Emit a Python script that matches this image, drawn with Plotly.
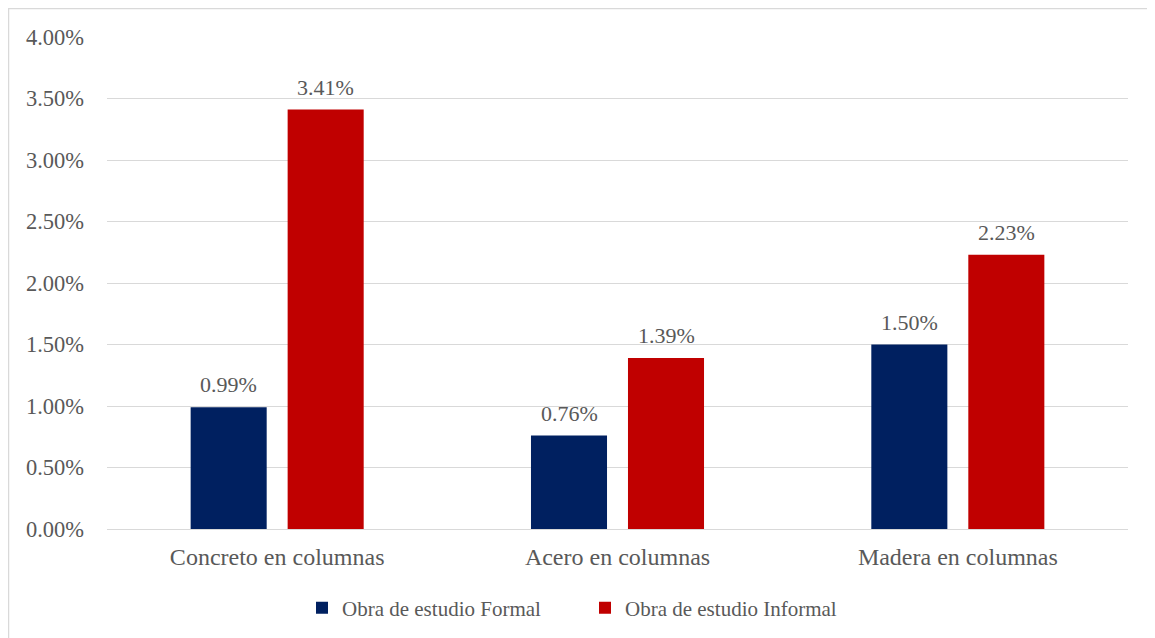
import plotly.graph_objects as go

categories = ["Concreto en columnas", "Acero en columnas", "Madera en columnas"]
formal = [0.0099, 0.0076, 0.0150]
informal = [0.0341, 0.0139, 0.0223]
series_names = ["Obra de estudio Formal", "Obra de estudio Informal"]
colors = ["#002060", "#C00000"]

FONT = "Liberation Serif, Times New Roman, serif"
GRAY = "#595959"

# plot area in page pixels (page body has an 8px margin)
PX0, PX1, PY0, PY1 = 107, 1128, 37, 529
PW, PH = PX1 - PX0, PY1 - PY0
FIG_W, FIG_H = 1147, 630

fig = go.Figure()
for name, vals, color in zip(series_names, [formal, informal], colors):
    fig.add_trace(
        go.Bar(
            x=categories,
            y=vals,
            name=name,
            marker=dict(color=color, line=dict(width=0)),
        )
    )

# data labels above the bars
for vals, shift in [(formal, -48.5), (informal, 48.5)]:
    for cat, v in zip(categories, vals):
        fig.add_annotation(
            x=cat,
            y=v,
            text=f"{v:.2%}",
            showarrow=False,
            xshift=shift,
            yshift=8,
            yanchor="bottom",
            font=dict(family=FONT, size=22, color=GRAY),
        )

fig.update_layout(
    width=FIG_W,
    height=FIG_H,
    margin=dict(l=PX0 - 8, r=1155 - PX1, t=PY0 - 8, b=638 - PY1, autoexpand=False),
    paper_bgcolor="white",
    plot_bgcolor="white",
    font=dict(family=FONT, size=21, color=GRAY),
    barmode="group",
    bargap=0.43,
    bargroupgap=0.216,
    showlegend=True,
    legend=dict(
        orientation="h",
        x=(585 - PX0) / PW,
        xanchor="center",
        yref="container",
        y=(638 - 608) / FIG_H,
        yanchor="middle",
        font=dict(family=FONT, size=21, color=GRAY),
        itemwidth=30,
        entrywidth=238,
        entrywidthmode="pixels",
    ),
    xaxis=dict(
        showgrid=False,
        showline=False,
        ticks="",
        automargin=False,
        ticklabelstandoff=11,
        tickfont=dict(size=24, color=GRAY),
    ),
    yaxis=dict(
        range=[0, 0.04],
        dtick=0.005,
        tickformat=".2%",
        showgrid=True,
        gridcolor="#D9D9D9",
        gridwidth=1,
        zeroline=True,
        zerolinecolor="#D9D9D9",
        zerolinewidth=1,
        showline=False,
        ticks="",
        automargin=False,
        ticklabelstandoff=22,
        tickfont=dict(size=22.5, color=GRAY),
    ),
    shapes=[
        dict(
            type="rect",
            xref="paper",
            yref="paper",
            x0=(8.5 - PX0) / PW,
            x1=(1170 - PX0) / PW,
            y0=-(660 - PY1) / PH,
            y1=1 + (PY0 - 8.5) / PH,
            line=dict(color="#D9D9D9", width=1.5),
            fillcolor="rgba(0,0,0,0)",
            layer="below",
        )
    ],
)

fig.write_html("out.html")
